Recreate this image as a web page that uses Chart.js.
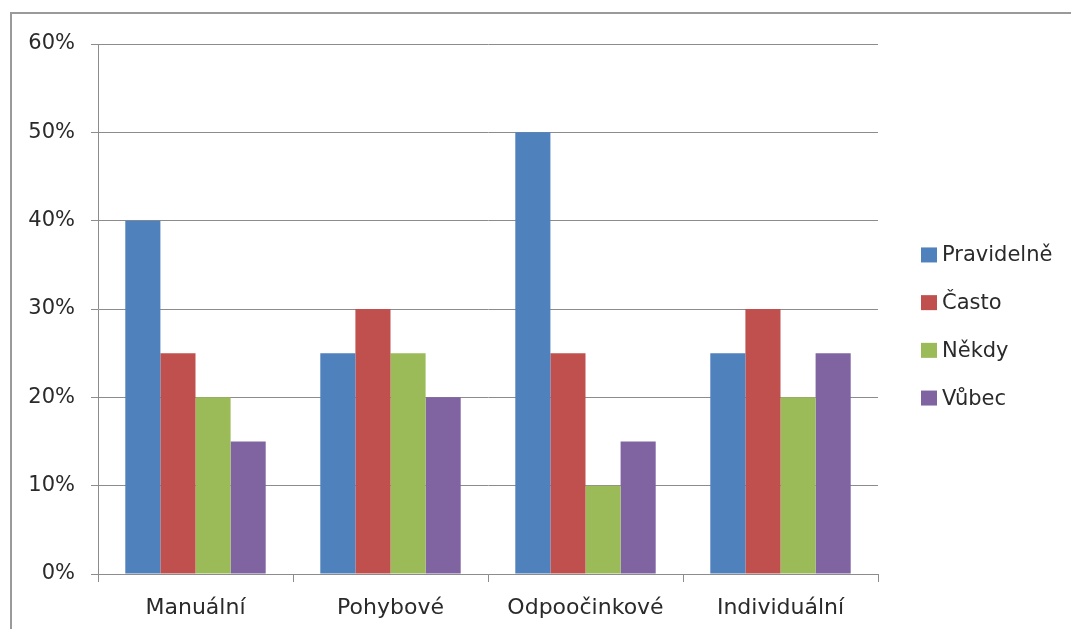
<!DOCTYPE html>
<html>
<head>
<meta charset="utf-8">
<style>
  html, body { margin: 0; padding: 0; background: #ffffff; }
  #wrap { position: relative; width: 1071px; height: 629px; }
  canvas { display: block; }
</style>
<script src="https://cdn.jsdelivr.net/npm/chart.js@4/dist/chart.umd.min.js"></script>
</head>
<body>
<div id="wrap"><canvas id="chart" width="1071" height="629"></canvas></div>
<script>
// Activity types and how often each is used (percent of respondents)
const categories = ['Manuální', 'Pohybové', 'Odpoočinkové', 'Individuální'];
const seriesNames = ['Pravidelně', 'Často', 'Někdy', 'Vůbec'];
const pravidelne = [40, 25, 50, 25];
const casto = [25, 30, 25, 30];
const nekdy = [20, 25, 10, 20];
const vubec = [15, 20, 15, 25];
const yTicks = [0, 10, 20, 30, 40, 50, 60];

const colors = ['#4F81BD', '#C0504D', '#9BBB59', '#8064A2'];
const seriesValues = [pravidelne, casto, nekdy, vubec];
const FONT = '"DejaVu Sans", sans-serif';
const TEXT = '#2a2a2a';
const GRID = '#8c8c8c';

// Outer frame of the chart object
const framePlugin = {
  id: 'frame',
  beforeDraw(chart) {
    const ctx = chart.ctx;
    ctx.save();
    ctx.fillStyle = '#ffffff';
    ctx.fillRect(0, 0, chart.width, chart.height);
    ctx.strokeStyle = '#9a9a9a';
    ctx.lineWidth = 2;
    ctx.beginPath();
    ctx.moveTo(11, chart.height);
    ctx.lineTo(11, 13);
    ctx.lineTo(chart.width, 13);
    ctx.stroke();
    ctx.restore();
  }
};

// Series key to the right of the plot area
const keyPlugin = {
  id: 'seriesKey',
  afterDraw(chart) {
    const ctx = chart.ctx;
    const area = chart.chartArea;
    const x0 = area.right + 43;
    const step = 47.7;
    const n = chart.data.datasets.length;
    const yMid = 326.5;
    ctx.save();
    ctx.font = '21px ' + FONT;
    ctx.textBaseline = 'middle';
    ctx.textAlign = 'left';
    chart.data.datasets.forEach((ds, i) => {
      const y = yMid + (i - (n - 1) / 2) * step;
      ctx.fillStyle = ds.backgroundColor;
      ctx.fillRect(x0, y - 7.5, 16, 15);
      ctx.fillStyle = TEXT;
      ctx.fillText(ds.label, x0 + 21, y + 1);
    });
    ctx.restore();
  }
};

new Chart(document.getElementById('chart'), {
  type: 'bar',
  data: {
    labels: categories,
    datasets: seriesNames.map((name, i) => ({
      label: name,
      data: seriesValues[i],
      backgroundColor: colors[i],
      borderWidth: 0,
      categoryPercentage: 0.72,
      barPercentage: 1.0
    }))
  },
  options: {
    responsive: false,
    animation: false,
    events: [],
    layout: { padding: { top: 44, right: 193, bottom: 0, left: 13 } },
    plugins: {
      legend: { display: false },
      tooltip: { enabled: false },
      title: { display: false }
    },
    scales: {
      x: {
        offset: true,
        grid: {
          display: true,
          offset: true,
          drawOnChartArea: false,
          drawTicks: true,
          tickLength: 8,
          color: GRID,
          lineWidth: 1
        },
        border: { display: true, color: GRID, width: 1 },
        ticks: {
          color: TEXT,
          font: { family: FONT, size: 22 },
          padding: 13,
          maxRotation: 0
        },
        afterFit(scale) { scale.height = 55; }
      },
      y: {
        min: 0,
        max: 60,
        afterBuildTicks(scale) { scale.ticks = yTicks.map(v => ({ value: v })); },
        grid: {
          color: GRID,
          lineWidth: 1,
          drawTicks: true,
          tickLength: 7
        },
        border: { display: true, color: GRID, width: 1 },
        ticks: {
          color: TEXT,
          font: { family: FONT, size: 21 },
          padding: 16,
          callback: v => v + '%'
        },
        afterFit(scale) { scale.width = 85; }
      }
    }
  },
  plugins: [framePlugin, keyPlugin]
});
</script>
</body>
</html>
